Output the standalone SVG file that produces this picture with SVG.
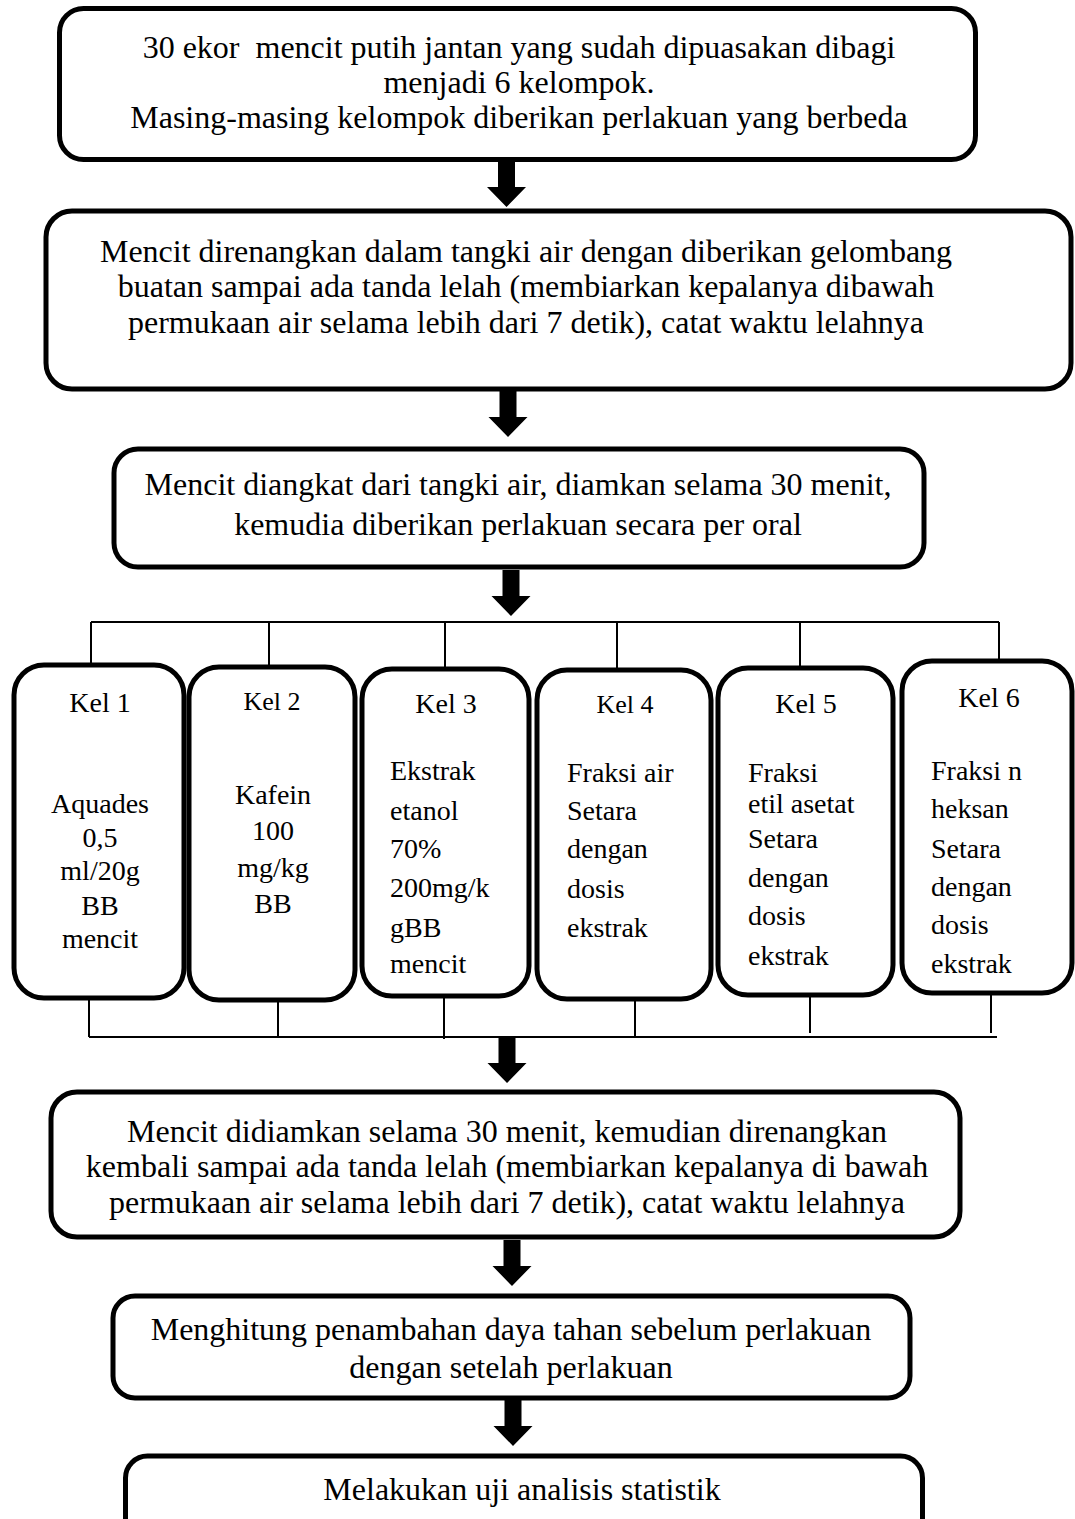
<svg xmlns="http://www.w3.org/2000/svg" xmlns:xlink="http://www.w3.org/1999/xlink" width="1075" height="1519" viewBox="0 0 1075 1519">
<style>
.box{fill:#fff;stroke:#000;stroke-width:5}
.t{font-family:"Liberation Serif","Times New Roman",serif;font-size:32px;fill:#000;text-anchor:middle}
.k{font-family:"Liberation Serif","Times New Roman",serif;font-size:28px;fill:#000}
.c{text-anchor:middle}
.s{font-size:26px}
.ln{stroke:#000;stroke-width:2;fill:none}
.ar{fill:#000}
</style>
<defs>
<path id="arr" d="M-8.5,0 H8.5 V26 H19.5 L0,46 L-19.5,26 H-8.5 Z"/>
</defs>
<rect width="1075" height="1519" fill="#fff"/>

<g id="connectors">
  <use xlink:href="#arr" class="ar" transform="translate(506.5,161)"/>
  <use xlink:href="#arr" class="ar" transform="translate(508,391)"/>
  <use xlink:href="#arr" class="ar" transform="translate(511,570)"/>
  <path class="ln" d="M91,622 H999 M91,622 V663 M269,622 V665 M445,622 V667 M617,622 V668 M800,622 V666 M999,622 V660"/>
  <path class="ln" d="M89,1037 H997 M89,998 V1037 M278,1000 V1037 M444,995 V1039 M635,999 V1037 M810,995 V1033 M991,993 V1033"/>
  <use xlink:href="#arr" class="ar" transform="translate(507,1037)"/>
  <use xlink:href="#arr" class="ar" transform="translate(512,1240)"/>
  <use xlink:href="#arr" class="ar" transform="translate(513,1400)"/>
</g>

<g id="n1">
  <rect class="box" x="59.5" y="8.5" width="916" height="151" rx="24"/>
  <text class="t" x="519" y="58" style="white-space:pre">30 ekor  mencit putih jantan yang sudah dipuasakan dibagi</text>
  <text class="t" x="519" y="93">menjadi 6 kelompok.</text>
  <text class="t" x="519" y="128">Masing-masing kelompok diberikan perlakuan yang berbeda</text>
</g>

<g id="n2">
  <rect class="box" x="46" y="211" width="1025" height="178" rx="26"/>
  <text class="t" x="526" y="262">Mencit direnangkan dalam tangki air dengan diberikan gelombang</text>
  <text class="t" x="526" y="297">buatan sampai ada tanda lelah (membiarkan kepalanya dibawah</text>
  <text class="t" x="526" y="333">permukaan air selama lebih dari 7 detik), catat waktu lelahnya</text>
</g>

<g id="n3">
  <rect class="box" x="114" y="449" width="810" height="118" rx="24"/>
  <text class="t" x="518" y="495">Mencit diangkat dari tangki air, diamkan selama 30 menit,</text>
  <text class="t" x="518" y="535">kemudia diberikan perlakuan secara per oral</text>
</g>

<g id="kel1">
  <rect class="box" x="14" y="665" width="170" height="333" rx="30"/>
  <text class="k c" x="100" y="712">Kel 1</text>
  <text class="k c" x="100" y="813">Aquades</text>
  <text class="k c" x="100" y="847">0,5</text>
  <text class="k c" x="100" y="880">ml/20g</text>
  <text class="k c" x="100" y="915">BB</text>
  <text class="k c" x="100" y="948">mencit</text>
</g>

<g id="kel2">
  <rect class="box" x="189" y="667" width="166" height="333" rx="30"/>
  <text class="k c s" x="272" y="710">Kel 2</text>
  <text class="k c" x="273" y="804">Kafein</text>
  <text class="k c" x="273" y="840">100</text>
  <text class="k c" x="273" y="877">mg/kg</text>
  <text class="k c" x="273" y="913">BB</text>
</g>

<g id="kel3">
  <rect class="box" x="362" y="669" width="167" height="327" rx="30"/>
  <text class="k c" x="446" y="713">Kel 3</text>
  <text class="k" x="390" y="780">Ekstrak</text>
  <text class="k" x="390" y="820">etanol</text>
  <text class="k" x="390" y="858">70%</text>
  <text class="k" x="390" y="897">200mg/k</text>
  <text class="k" x="390" y="937">gBB</text>
  <text class="k" x="390" y="973">mencit</text>
</g>

<g id="kel4">
  <rect class="box" x="537" y="670" width="174" height="329" rx="30"/>
  <text class="k c s" x="625" y="713">Kel 4</text>
  <text class="k" x="567" y="782">Fraksi air</text>
  <text class="k" x="567" y="820">Setara</text>
  <text class="k" x="567" y="858">dengan</text>
  <text class="k" x="567" y="898">dosis</text>
  <text class="k" x="567" y="937">ekstrak</text>
</g>

<g id="kel5">
  <rect class="box" x="718" y="668" width="175" height="327" rx="30"/>
  <text class="k c" x="806" y="713">Kel 5</text>
  <text class="k" x="748" y="782">Fraksi</text>
  <text class="k" x="748" y="813">etil asetat</text>
  <text class="k" x="748" y="848">Setara</text>
  <text class="k" x="748" y="887">dengan</text>
  <text class="k" x="748" y="925">dosis</text>
  <text class="k" x="748" y="965">ekstrak</text>
</g>

<g id="kel6">
  <rect class="box" x="902" y="661" width="170" height="332" rx="30"/>
  <text class="k c" x="989" y="707">Kel 6</text>
  <text class="k" x="931" y="780">Fraksi n</text>
  <text class="k" x="931" y="818">heksan</text>
  <text class="k" x="931" y="858">Setara</text>
  <text class="k" x="931" y="896">dengan</text>
  <text class="k" x="931" y="934">dosis</text>
  <text class="k" x="931" y="973">ekstrak</text>
</g>

<g id="n4">
  <rect class="box" x="51" y="1092" width="909" height="145" rx="26"/>
  <text class="t" x="507" y="1142">Mencit didiamkan selama 30 menit, kemudian direnangkan</text>
  <text class="t" x="507" y="1177">kembali sampai ada tanda lelah (membiarkan kepalanya di bawah</text>
  <text class="t" x="507" y="1213">permukaan air selama lebih dari 7 detik), catat waktu lelahnya</text>
</g>

<g id="n5">
  <rect class="box" x="113" y="1296" width="797" height="102" rx="22"/>
  <text class="t" x="511" y="1340">Menghitung penambahan daya tahan sebelum perlakuan</text>
  <text class="t" x="511" y="1378">dengan setelah perlakuan</text>
</g>

<g id="n6">
  <rect class="box" x="125.5" y="1456" width="797" height="90" rx="22"/>
  <text class="t" x="522" y="1500">Melakukan uji analisis statistik</text>
</g>
</svg>
